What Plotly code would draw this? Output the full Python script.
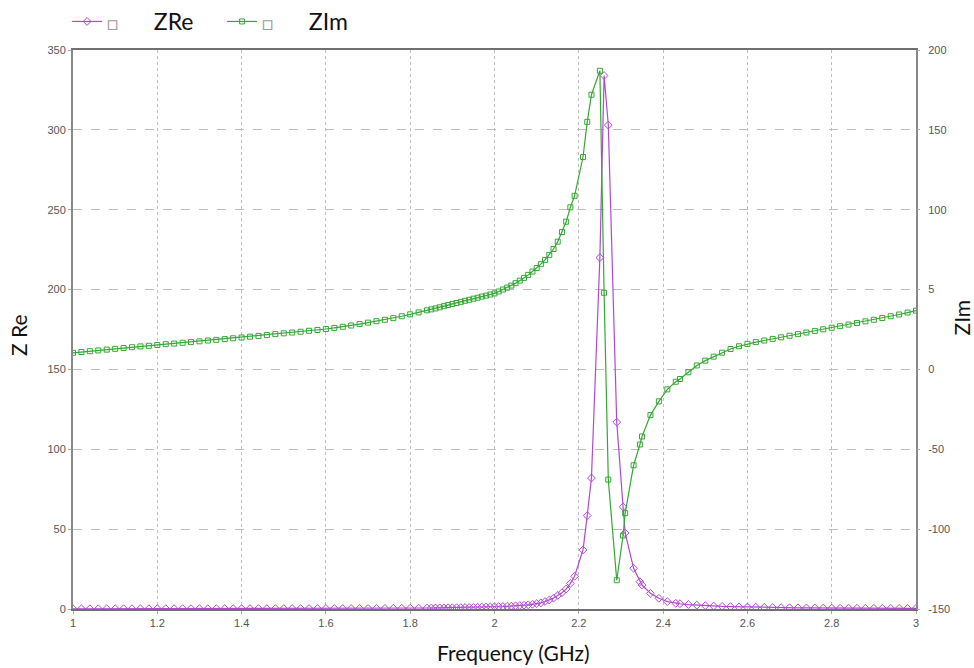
import plotly.graph_objects as go

# Frequency (GHz)
freq = [1.00, 1.02, 1.04, 1.06, 1.08, 1.10, 1.12, 1.14, 1.16, 1.18,
        1.20, 1.22, 1.24, 1.26, 1.28, 1.30, 1.32, 1.34, 1.36, 1.38,
        1.40, 1.42, 1.44, 1.46, 1.48, 1.50, 1.52, 1.54, 1.56, 1.58,
        1.60, 1.62, 1.64, 1.66, 1.68, 1.70, 1.72, 1.74, 1.76, 1.78,
        1.80, 1.82, 1.84,
        1.85, 1.86, 1.87, 1.88, 1.89, 1.90, 1.91, 1.92, 1.93, 1.94,
        1.95, 1.96, 1.97, 1.98, 1.99, 2.00, 2.01, 2.02, 2.03, 2.04,
        2.05, 2.06, 2.07, 2.08, 2.09, 2.10, 2.11, 2.12, 2.13, 2.14,
        2.15, 2.16, 2.17, 2.18, 2.19, 2.21, 2.22, 2.23, 2.25, 2.26,
        2.27, 2.29, 2.305, 2.31, 2.33, 2.345, 2.35, 2.37, 2.39, 2.41,
        2.43,
        2.44, 2.46, 2.48, 2.50, 2.52, 2.54, 2.56, 2.58, 2.60, 2.62,
        2.64, 2.66, 2.68, 2.70, 2.72, 2.74, 2.76, 2.78, 2.80, 2.82,
        2.84, 2.86, 2.88, 2.90, 2.92, 2.94, 2.96, 2.98, 3.00]

z_re = [0.15, 0.15, 0.16, 0.16, 0.17, 0.17, 0.18, 0.18, 0.19, 0.19,
        0.20, 0.20, 0.21, 0.21, 0.22, 0.22, 0.23, 0.23, 0.24, 0.24,
        0.25, 0.25, 0.26, 0.26, 0.27, 0.27, 0.28, 0.28, 0.29, 0.29,
        0.30, 0.31, 0.32, 0.33, 0.34, 0.35, 0.37, 0.40, 0.43, 0.46,
        0.50, 0.55, 0.60,
        0.62, 0.65, 0.68, 0.72, 0.76, 0.80, 0.84, 0.88, 0.93, 0.98,
        1.03, 1.09, 1.15, 1.22, 1.30, 1.38, 1.47, 1.57, 1.69, 1.82,
        1.97, 2.15, 2.37, 2.63, 2.95, 3.35, 3.85, 4.7, 5.6, 6.8,
        8.5, 10.2, 12.5, 16.0, 20.5, 37.0, 58.5, 82.0, 220.0, 334.0,
        303.0, 117.0, 64.0, 47.6, 25.5, 17.1, 15.0, 9.8, 6.7, 4.6,
        3.6,
        3.3, 2.8, 2.4, 2.1, 1.85, 1.65, 1.5, 1.35, 1.2, 1.1,
        1.0, 0.9, 0.85, 0.8, 0.75, 0.7, 0.65, 0.6, 0.55, 0.52,
        0.5, 0.48, 0.46, 0.44, 0.42, 0.40, 0.38, 0.36, 0.35]

z_im = [10.4, 10.9, 11.4, 11.9, 12.4, 12.9, 13.4, 13.9, 14.4, 14.8,
        15.3, 15.8, 16.2, 16.7, 17.1, 17.6, 18.1, 18.5, 19.0, 19.5,
        20.0, 20.5, 21.0, 21.5, 22.1, 22.6, 23.1, 23.6, 24.2, 24.7,
        25.3, 26.0, 26.7, 27.5, 28.4, 29.3, 30.2, 31.1, 32.1, 33.3,
        34.5, 35.7, 37.0,
        37.6, 38.2, 38.9, 39.6, 40.3, 41.0, 41.6, 42.3, 43.0, 43.6,
        44.3, 44.9, 45.6, 46.2, 46.9, 47.6, 48.8, 50.0, 51.2, 52.5,
        54.0, 55.6, 57.3, 59.2, 61.3, 63.5, 65.9, 68.6, 71.7, 75.4,
        80.0, 86.0, 92.5, 101.5, 108.7, 133.0, 155.0, 172.0, 187.0, 48.0,
        -69.0, -132.0, -104.0, -90.0, -60.0, -47.0, -42.0, -28.6, -20.0, -12.5,
        -7.7,
        -6.0, -1.8, 2.5, 5.5, 8.0, 10.5, 12.8, 14.5, 16.0, 17.1,
        18.1, 19.1, 20.1, 21.1, 22.1, 23.1, 24.1, 25.1, 26.1, 27.1,
        28.1, 29.1, 30.1, 31.1, 32.2, 33.3, 34.4, 35.6, 36.8]

x_ticks = [1.0, 1.2, 1.4, 1.6, 1.8, 2.0, 2.2, 2.4, 2.6, 2.8, 3.0]
x_ticktext = ["1", "1.2", "1.4", "1.6", "1.8", "2", "2.2", "2.4", "2.6", "2.8", "3"]
y_ticks = [0, 50, 100, 150, 200, 250, 300, 350]
y2_ticks = [-150, -100, -50, 0, 50, 100, 150, 200]
y2_ticktext = ["-150", "-100", "-50", "0", "5", "100", "150", "200"]

PURPLE = "#b048d4"
GREEN = "#34a834"
BOX = "<span style='color:#9a9a9a;font-size:19px'>\u25a1</span>"

fig = go.Figure()
fig.add_trace(go.Scatter(
    x=freq, y=z_re, name=BOX + "\u00a0\u00a0\u00a0\u00a0\u00a0\u00a0ZRe", mode="lines+markers",
    line=dict(color=PURPLE, width=1.2),
    marker=dict(symbol="diamond-open", size=6, color=PURPLE, line=dict(width=1)),
))
fig.add_trace(go.Scatter(
    x=freq, y=z_im, name=BOX + "\u00a0\u00a0\u00a0\u00a0\u00a0\u00a0ZIm", mode="lines+markers",
    yaxis="y2",
    line=dict(color=GREEN, width=1.2),
    marker=dict(symbol="square-open", size=5, color=GREEN, line=dict(width=1)),
))

tickfont = dict(family="Liberation Sans, Arial, sans-serif", size=11, color="#555555")
titlefont = dict(family="Lato, Noto Sans, sans-serif", size=21, color="#111111")

fig.update_layout(
    width=974, height=668,
    margin=dict(l=73, r=58, t=50, b=59, autoexpand=False),
    paper_bgcolor="white", plot_bgcolor="white",
    showlegend=True,
    legend=dict(orientation="h", x=-0.007, y=1.0, xref="paper", yref="container",
                xanchor="left", yanchor="top",
                font=dict(family="Lato, Noto Sans, sans-serif", size=23, color="#111111"),
                bgcolor="rgba(0,0,0,0)", itemwidth=30,
                entrywidth=110, entrywidthmode="pixels"),
    xaxis=dict(range=[1, 3], tickvals=x_ticks, ticktext=x_ticktext,
               showgrid=True, gridcolor="#bdbdbd", griddash="dot", gridwidth=1,
               showline=True, linecolor="#707070", linewidth=1.5, mirror=True,
               ticks="outside", ticklen=3, tickcolor="#aaaaaa",
               tickfont=tickfont, zeroline=False),
    yaxis=dict(range=[0, 350], tickvals=y_ticks,
               showgrid=True, gridcolor="#bdbdbd", griddash="dash", gridwidth=1,
               showline=True, linecolor="#888888", linewidth=2, mirror=True,
               ticks="outside", ticklen=3, tickcolor="#aaaaaa",
               tickfont=tickfont, zeroline=False),
    yaxis2=dict(range=[-150, 200], tickvals=y2_ticks, ticktext=y2_ticktext,
                overlaying="y", side="right", showgrid=False, zeroline=False,
                showline=False, ticks="outside", ticklen=3, tickcolor="#aaaaaa",
                ticklabelstandoff=6, tickfont=tickfont),
)

fig.add_annotation(text="Frequency (GHz)", xref="paper", yref="paper",
                   x=(513 - 73) / 843, y=-(652 - 609) / 559, xanchor="center", yanchor="middle",
                   showarrow=False, font=titlefont)
fig.add_annotation(text="Z Re", xref="paper", yref="paper",
                   x=(18 - 73) / 843, y=(609 - 335) / 559, xanchor="center", yanchor="middle",
                   textangle=-90, showarrow=False, font=titlefont)
fig.add_annotation(text="ZIm", xref="paper", yref="paper",
                   x=(946 - 73) / 843, y=(609 - 318) / 559, xanchor="left", yanchor="middle",
                   textangle=-90, showarrow=False, font=titlefont)

fig.write_html("out.html")
